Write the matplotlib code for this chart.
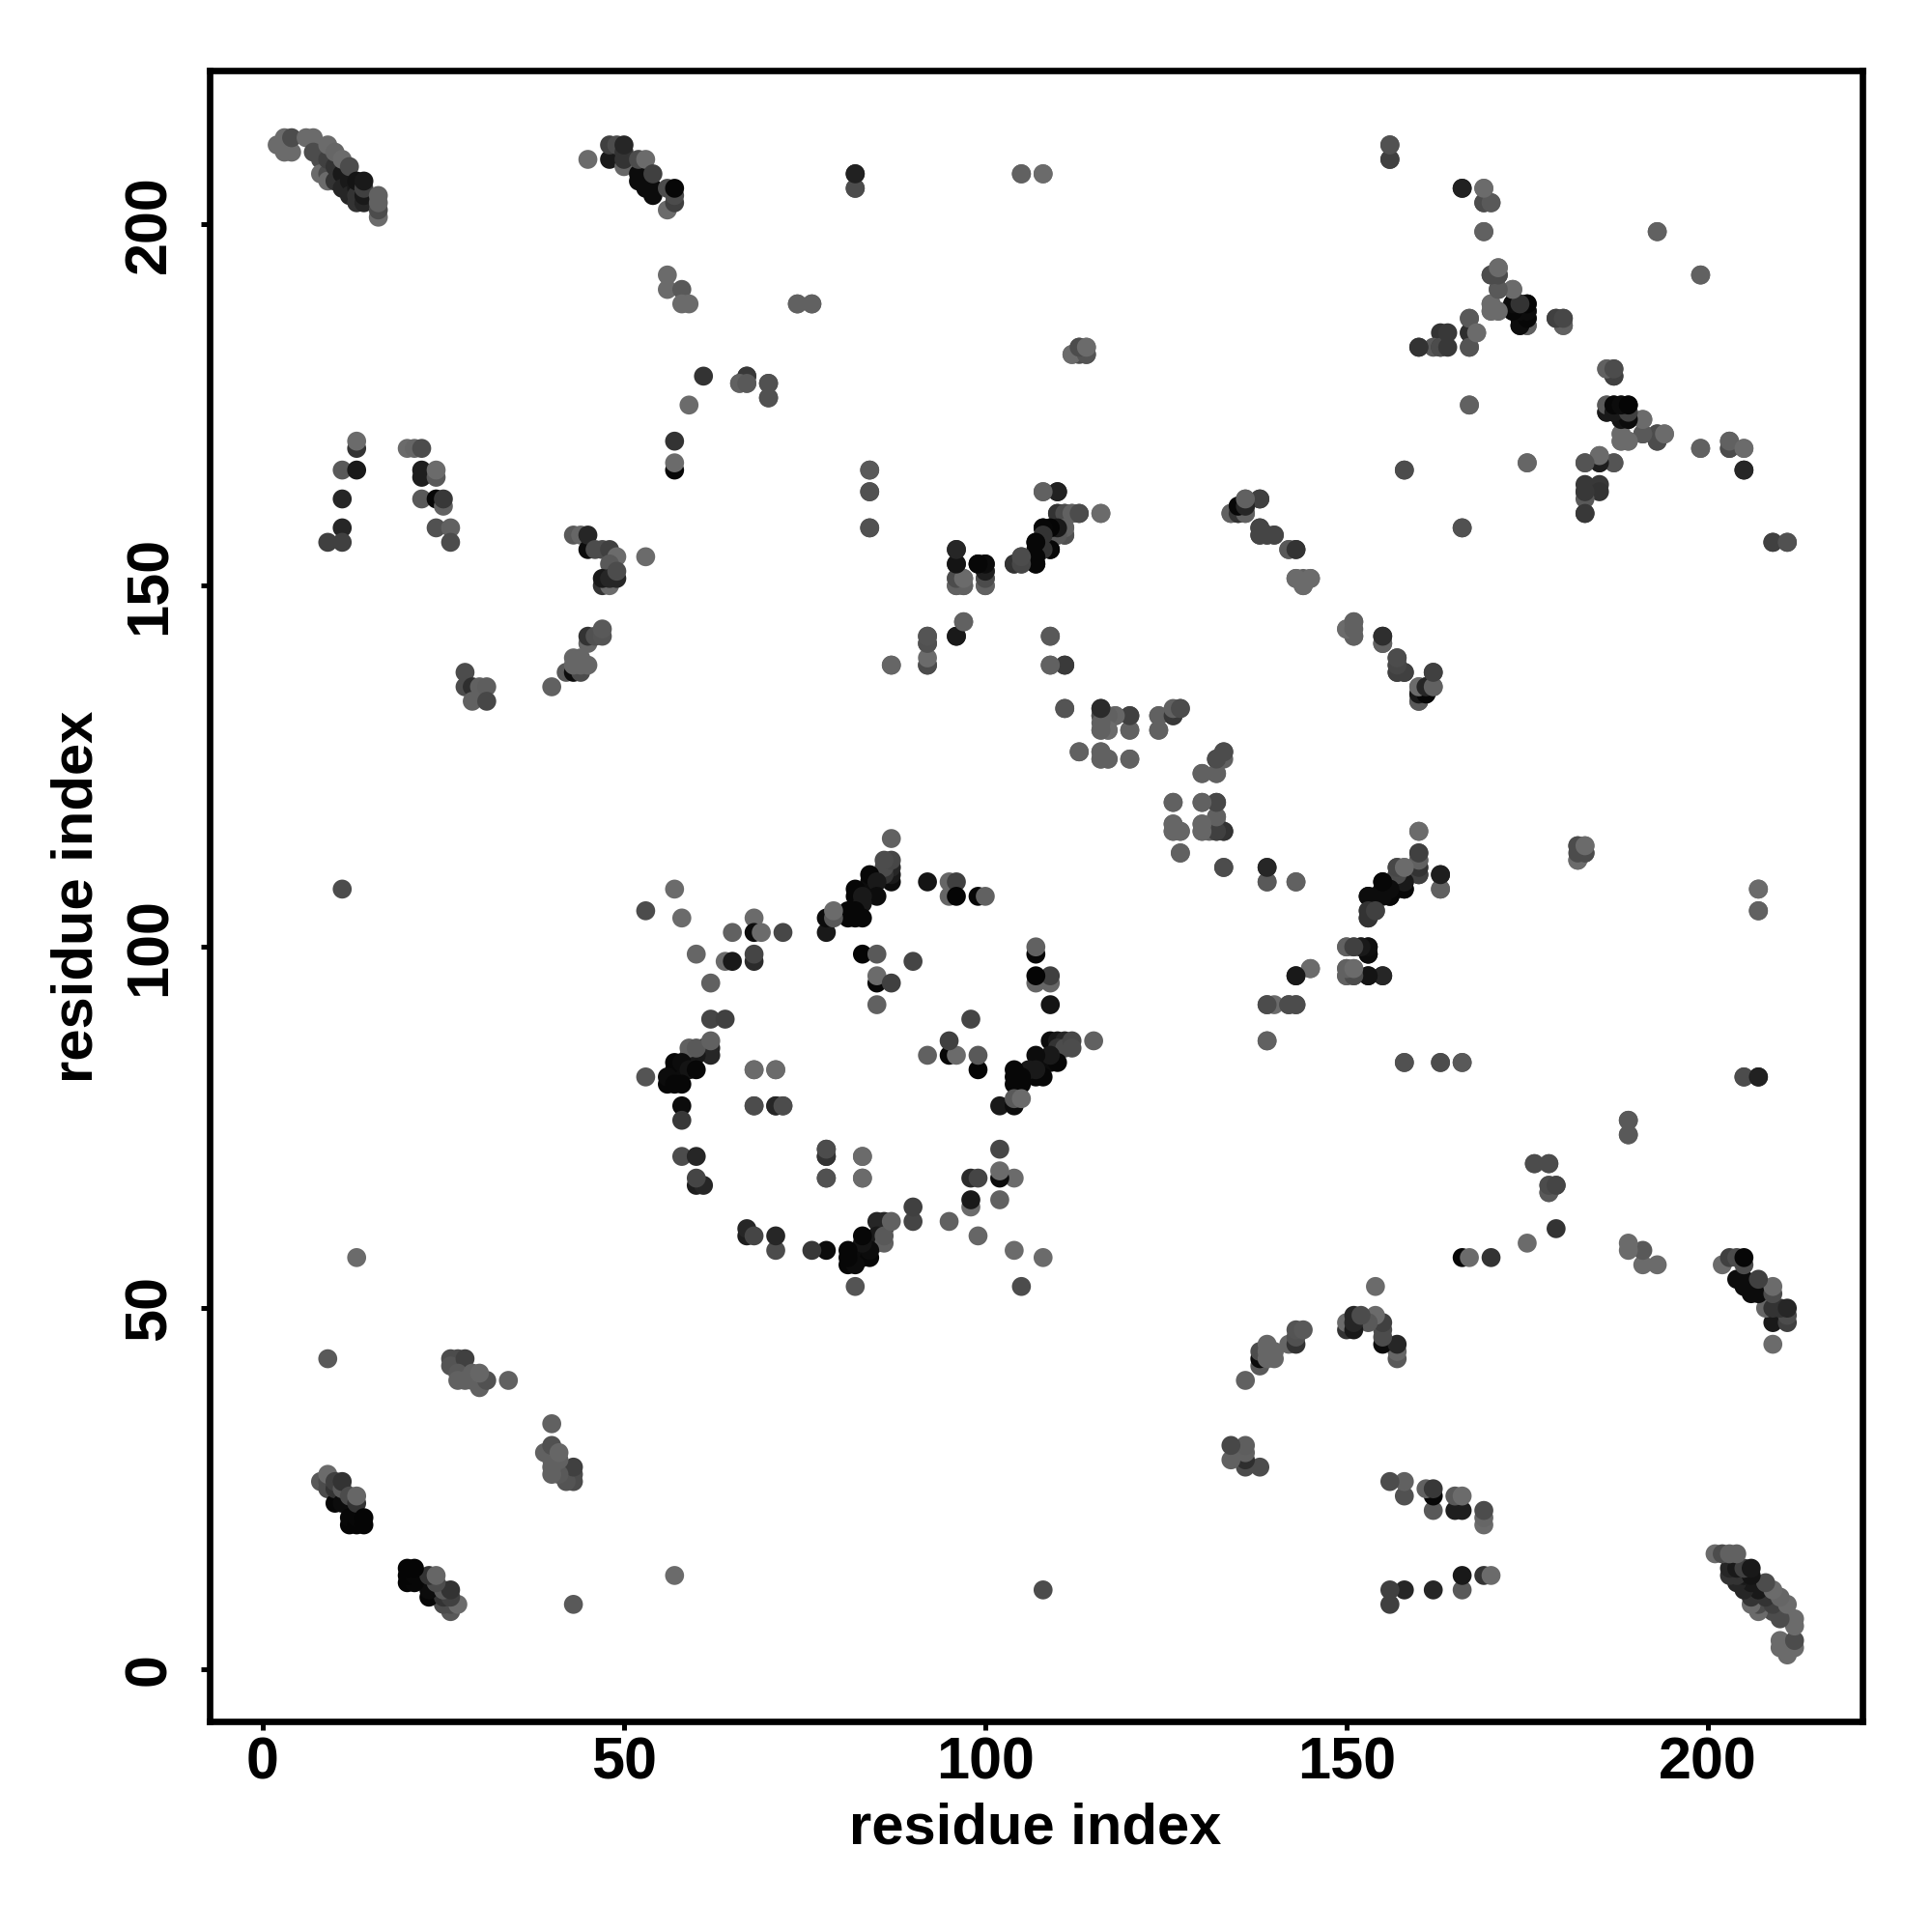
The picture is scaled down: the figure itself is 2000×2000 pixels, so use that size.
import matplotlib
matplotlib.use("Agg")
import matplotlib.pyplot as plt

plt.rcParams['font.family'] = ['Liberation Sans', 'DejaVu Sans']

x_ticks = [0, 50, 100, 150, 200]
y_ticks = [0, 50, 100, 150, 200]
x_label = "residue index"
y_label = "residue index"

# contacts: (residue i, residue j, grey level of the point); the map is symmetric
c_nterm = [(2,211,.42),(3,212,.42),(3,210,.42),(4,210,.42),(4,212,.3),(6,212,.42),(7,212,.42),(7,210,.3),
 (8,209,.3),(8,207,.42),(9,207,.3),(9,206,.42),(9,209,.25),(9,211,.42),(10,208,.2),(10,206,.2),(10,210,.4),
 (11,207,.1),(11,205,.15),(11,209,.42),(12,206,.1),(12,204,.15),(12,208,.3),(13,205,.1),(13,203,.2),(13,204,.2),(13,206,.08),
 (14,203,.15),(14,204,.1),(14,205,.25),(14,206,.1),(16,201,.42),(16,202,.3),(16,203,.38),(16,204,.38)]
c_loop1 = [(45,209,.42),(48,209,.1),(48,211,.25),(49,211,.3),(50,208,.4),(50,209,.2),(50,210,.2),(50,211,.15),
 (52,206,.05),(52,207,.05),(52,209,.3),(53,205,.05),(53,209,.42),(54,204,.05),(54,205,.05),(54,207,.25),
 (56,202,.42),(56,205,.3),(57,203,.25),(57,204,.3),(57,205,.03),
 (56,193,.42),(56,191,.42),(58,191,.35),(58,189,.42),(59,189,.42),(61,179,.2),(59,175,.42),(57,170,.2),(57,166,.03),(57,167,.42),
 (66,178,.35),(67,178,.3),(67,179,.27),(70,178,.3),(70,176,.3)]
c_col11 = [(13,169,.2),(13,170,.42),(11,166,.35),(13,166,.1),(11,162,.15),(11,158,.15),(9,156,.25),(11,156,.25),
 (20,169,.42),(21,169,.4),(22,169,.3),(22,165,.12),(22,166,.12),(24,165,.35),(24,166,.42),(22,162,.35),(24,162,.03),
 (25,161,.38),(25,162,.22),(24,158,.32),(26,158,.38),(26,156,.3)]
c_strand = [(43,157,.35),(44,157,.4),(45,155,.05),(45,157,.15),(46,155,.3),(47,155,.3),(48,155,.25),(49,154,.42),(53,154,.42),
 (48,153,.35),(47,150,.2),(48,150,.42),(47,151,.1),(48,151,.15),(49,151,.15),(49,152,.3),
 (40,136,.38),(42,138,.35),(43,138,.05),(44,138,.3),(43,139,.4),(44,139,.4),(45,139,.4),(43,140,.4),(44,140,.4),
 (45,142,.4),(45,143,.2),(46,143,.32),(47,143,.33),(47,144,.35),
 (28,138,.3),(28,136,.3),(29,136,.18),(30,136,.38),(31,136,.37),(29,134,.38),(31,134,.28)]
c_mid = [(82,205,.3),(82,207,.13),(105,207,.38),(108,207,.42),(74,189,.35),(76,189,.35),
 (112,182,.42),(113,182,.3),(113,183,.3),(114,182,.3),(114,183,.42),(84,166,.35),(84,163,.3),(84,158,.32),
 (108,163,.38),(110,163,.12),(110,160,.25),(111,160,.2),(112,160,.38),(113,160,.25),(116,160,.42),
 (108,158,.03),(109,158,.1),(110,157,.3),(111,157,.28),(111,158,.42),(107,156,.03),(108,156,.05),(107,155,.05),(108,155,.05),(109,155,.03),
 (107,153,.05),(104,153,.2),(105,153,.2),(105,154,.25),
 (96,155,.15),(96,153,.08),(99,153,.05),(100,153,.06),(100,152,.1),(100,150,.38),(100,151,.25),
 (96,150,.38),(96,151,.3),(97,150,.38),(97,151,.42),(97,145,.42),(96,143,.1),(92,143,.3),(92,142,.3),(92,139,.3),(109,143,.38)]
c_diag = [(134,160,.35),(135,160,.1),(135,161,.03),(136,160,.42),(136,161,.15),(136,162,.38),(138,162,.25),
 (138,158,.25),(138,157,.25),(139,157,.28),(140,157,.3),(142,155,.38),(143,155,.18),
 (143,151,.38),(144,150,.42),(144,151,.38),(145,151,.38),(150,144,.42),(151,143,.42),(151,145,.42),
 (155,142,.35),(155,143,.2),(157,140,.27),(157,139,.27),(157,138,.27),(158,138,.27),(162,138,.25),
 (160,134,.38),(160,135,.2),(160,136,.38),(161,135,.03),(161,136,.15),(162,136,.38)]
c_upper = [(156,209,.25),(156,211,.32),(166,205,.15),(169,203,.3),(170,203,.38),(169,205,.42),(169,199,.38),(193,199,.38),(199,193,.38),
 (170,193,.3),(171,193,.3),(171,194,.42),(171,191,.35),(173,191,.42),(170,189,.42),(170,188,.42),(171,188,.42),
 (174,186,.1),(175,186,.35),(173,188,.08),(173,189,.05),(174,187,.1),(174,189,.25),(175,187,.03),(175,188,.05),(175,189,.02),
 (179,187,.25),(180,186,.38),(180,187,.3),(167,187,.33),(167,185,.12),(168,185,.42),(163,185,.2),(162,183,.35),(163,183,.22),(160,183,.22),(167,183,.33),
 (167,175,.4),(186,180,.38),(187,179,.25),(187,180,.28),
 (186,175,.38),(186,174,.05),(187,174,.05),(187,175,.03),(188,174,.05),(188,175,.05),(189,175,.02),(188,173,.03),(189,173,.05),(189,174,.2),(191,173,.42),
 (188,170,.42),(188,171,.42),(189,170,.42),(191,171,.35),(193,170,.3),(193,171,.3),(194,171,.42),
 (199,169,.38),(203,169,.3),(203,170,.35),(205,169,.42),(205,166,.13),(158,166,.32),(175,167,.38),
 (185,167,.18),(183,167,.33),(187,167,.35),(185,168,.42),(183,163,.3),(183,164,.22),(185,164,.22),(183,160,.2),(166,158,.3),(209,156,.25),(211,156,.32)]
c_centre = [(87,139,.38),(109,139,.35),(111,139,.15),(111,133,.3),(116,133,.2),(116,132,.25),(118,132,.38),(120,132,.28),(116,130,.4),(117,130,.4),(120,130,.38),
 (113,127,.38),(116,126,.4),(116,127,.4),(117,126,.4),(120,126,.38),(124,130,.38),(124,132,.38),(126,132,.3),(127,133,.3),
 (130,124,.38),(132,124,.38),(132,126,.22),(133,126,.38),(133,127,.3),
 (126,120,.38),(130,120,.38),(132,120,.25),(132,118,.4),(132,116,.3),(132,117,.38),(126,117,.38),(126,116,.38),(127,116,.38),(130,117,.42),(130,116,.38),(131,116,.38),(133,116,.17),(127,113,.38),
 (133,111,.33),(139,111,.23),(139,109,.38),(143,109,.35)]
c_right = [(160,116,.42),(160,110,.2),(160,111,.3),(160,112,.38),(160,113,.3),(163,110,.13),(163,108,.38),
 (182,112,.42),(182,114,.33),(183,113,.3),(183,114,.42),(207,108,.42),(207,105,.38),
 (157,111,.32),(158,111,.38),(157,110,.35),(158,110,.1),(158,109,.02),(158,108,.03),(155,109,.03),(155,108,.2),(157,108,.2),(156,107,.03),(153,107,.03),(154,107,.03),
 (153,104,.2),(153,105,.28),(154,105,.3),(150,100,.38),(151,100,.3),(152,100,.12),(153,100,.05),(153,99,.03),
 (150,96,.38),(150,97,.38),(151,96,.3),(151,97,.42),(153,96,.08),(155,96,.15),(143,96,.1),(145,97,.38),
 (139,92,.3),(140,92,.42),(142,92,.32),(143,92,.33),(139,87,.4),(158,84,.32),(163,84,.32),(166,84,.35),(205,82,.3),(207,82,.13),
 (189,76,.38),(189,74,.38),(176,70,.32),(178,70,.32),(179,67,.22),(178,66,.38),(178,67,.35)]
c_ring = [(87,115,.38),(87,109,.05),(87,110,.1),(87,111,.15),(86,110,.2),(86,111,.3),(87,112,.28),(86,112,.3),
 (84,109,.05),(84,110,.03),(85,109,.1),(85,107,.05),(82,107,.03),(82,108,.03),(83,107,.1),(83,106,.1),
 (81,104,.03),(81,105,.03),(82,104,.03),(82,105,.03),(83,104,.03),(78,102,.1),(78,104,.05),(79,104,.35),(79,105,.42),
 (92,109,.08),(95,107,.4),(95,109,.4),(96,109,.25),(96,107,.02),(99,107,.03),(100,107,.38),
 (57,108,.42),(53,105,.3),(58,104,.42),(68,104,.42),(65,102,.38),(68,102,.05),(69,102,.42),(72,102,.28),
 (60,99,.4),(64,98,.42),(65,98,.1),(68,98,.17),(68,99,.27),(62,95,.38),
 (83,99,.02),(85,99,.35),(90,98,.27),(85,95,.03),(85,96,.42),(87,95,.25),(85,92,.38),
 (62,90,.27),(64,90,.25),(61,86,.05),(62,85,.15),(62,86,.15),(59,85,.35),(60,85,.1),(59,86,.38),(60,86,.35),(62,87,.38),
 (57,83,.05),(57,84,.03),(58,84,.05),(59,83,.08),(60,83,.03),(56,81,.03),(56,82,.05),(57,81,.03),(58,81,.03),(53,82,.33),(58,78,.05),(58,76,.22),
 (68,83,.42),(71,83,.42),(68,78,.32),(71,78,.2),(72,78,.3),(58,71,.3),(60,71,.15),(60,67,.12),(61,67,.15),(60,68,.27),
 (78,71,.15),(78,72,.3),(78,68,.3),(83,71,.42),(83,68,.42)]
c_lower = [(8,26,.35),(9,25,.3),(9,26,.3),(9,27,.42),(10,23,.03),(10,25,.2),(10,26,.25),(11,23,.05),(11,25,.35),(11,26,.2),
 (12,20,.02),(12,21,.03),(12,24,.3),(13,20,.02),(13,21,.03),(13,23,.2),(13,24,.4),(14,20,.02),(14,21,.02),
 (26,43,.3),(27,43,.3),(26,42,.33),(28,43,.25),(27,41,.35),(27,40,.38),(28,40,.38),(29,41,.38),(29,40,.38),(30,39,.38),(30,40,.38),(31,40,.32),(30,41,.4),(34,40,.38),
 (9,43,.35),(13,57,.42),(11,108,.3)]

contact_groups = [c_nterm, c_loop1, c_col11, c_strand, c_mid, c_diag, c_upper, c_centre, c_right, c_ring, c_lower]

res_i, res_j, score = [], [], []
for group in contact_groups:
    for i, j, g in group:
        res_i.append(i); res_j.append(j); score.append(g)

W = 2000
fig = plt.figure(figsize=(10, 10), dpi=200)
L, R, T, B = 217, 1928, 73, 1782
ax = fig.add_axes([L / W, 1 - B / W, (R - L) / W, (B - T) / W])
ax.scatter(res_i + res_j, res_j + res_i, c=score + score, cmap="gray", vmin=0, vmax=1,
           s=50, linewidths=0, clip_on=True)
ax.set_xlim(-7.35, 221.4)
ax.set_ylim(-7.2, 221.3)
for s in ax.spines.values():
    s.set_linewidth(2.4)
ax.set_xticks(x_ticks)
ax.set_yticks(y_ticks)
ax.tick_params(axis="x", length=3.2, width=1.8, labelsize=22, pad=2.5)
ax.tick_params(axis="y", length=3.2, width=1.8, labelsize=22, pad=8.5)
for t in ax.get_xticklabels():
    t.set_fontweight("bold")
for t in ax.get_yticklabels():
    t.set_fontweight("bold")
    t.set_rotation(90)
    t.set_va("center")
fig.text(1072 / W, 1 - 1893 / W, x_label, ha="center", va="center", fontsize=21.5, fontweight="bold")
fig.text(80 / W, 1 - 928 / W, y_label, ha="center", va="center", rotation=90, fontsize=21.5, fontweight="bold")
fig.savefig("out.png", dpi=200)
